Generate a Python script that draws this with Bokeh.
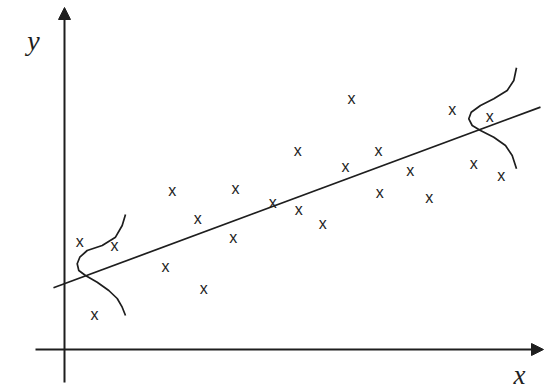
from bokeh.plotting import figure
from bokeh.models import Range1d, Arrow, NormalHead
from bokeh.core.properties import value
from bokeh.embed import file_html
from bokeh.resources import INLINE

# scatter observations (x, y)
obs_x = [1.53, 5.0, 3.0, 10.1, 13.93, 10.77, 13.33, 17.1, 16.87, 20.83, 23.33, 23.43,
         25.83, 28.1, 28.7, 31.4, 31.53, 34.57, 36.47, 38.77, 42.53, 40.93, 43.67]
obs_y = [10.8, 10.4, 3.5, 8.3, 6.1, 15.9, 13.07, 16.1, 11.2, 14.73, 19.9, 14.0,
         12.63, 18.3, 25.1, 19.9, 15.73, 17.9, 15.2, 23.97, 23.3, 18.57, 17.4]

# regression line end points
fit_x = [-1.1, 47.6]
fit_y = [6.17, 24.24]

# error-distribution curves
left_curve_x = [6.1, 5.77, 5.1, 3.77, 2.27, 1.53, 1.27, 1.43, 2.1, 3.27, 4.43, 5.27, 5.77, 6.1]
left_curve_y = [13.5, 12.4, 11.23, 10.4, 9.9, 9.23, 8.57, 7.9, 7.4, 6.73, 5.9, 5.1, 4.23, 3.4]
right_curve_x = [45.2, 44.93, 44.27, 42.93, 41.6, 40.67, 40.43, 40.77, 41.6, 42.93, 44.1, 44.77, 45.2]
right_curve_y = [28.17, 26.9, 25.9, 25.07, 24.4, 23.73, 23.07, 22.4, 21.9, 21.23, 20.4, 19.4, 18.07]

# axes extents
x_axis = [-2.9, 47.9]
y_axis = [-3.3, 34.2]

p = figure(width=544, height=388, output_backend="svg", toolbar_location=None,
           x_range=Range1d(-6.4, 48.0), y_range=Range1d(-3.9, 34.9),
           min_border=0, background_fill_color="white", border_fill_color="white")
p.axis.visible = False
p.grid.visible = False
p.outline_line_color = None

ink = "#1e1e1e"

p.add_layout(Arrow(end=NormalHead(size=12, fill_color=ink, line_color=ink),
                   x_start=x_axis[0], y_start=0, x_end=x_axis[1], y_end=0,
                   line_color=ink, line_width=2))
p.add_layout(Arrow(end=NormalHead(size=12, fill_color=ink, line_color=ink),
                   x_start=0, y_start=y_axis[0], x_end=0, y_end=y_axis[1],
                   line_color=ink, line_width=2))

p.line(fit_x, fit_y, line_color=ink, line_width=1.7)
p.line(left_curve_x, left_curve_y, line_color=ink, line_width=1.7)
p.line(right_curve_x, right_curve_y, line_color=ink, line_width=1.7)

p.text(obs_x, obs_y, text=["x"] * len(obs_x), text_font=value("Liberation Sans"),
       text_font_size="16px", text_color=ink, text_align="center",
       text_baseline="alphabetic", y_offset=0)

p.text([-3.1], [30.9], text=["y"], text_font=value("Liberation Serif"),
       text_font_style="italic", text_font_size="28px", text_color=ink,
       text_align="center", text_baseline="alphabetic")
p.text([45.5], [-2.5], text=["x"], text_font=value("Liberation Serif"),
       text_font_style="italic", text_font_size="27px", text_color=ink,
       text_align="center", text_baseline="alphabetic")

open("out.html", "w").write(file_html(p, INLINE))
